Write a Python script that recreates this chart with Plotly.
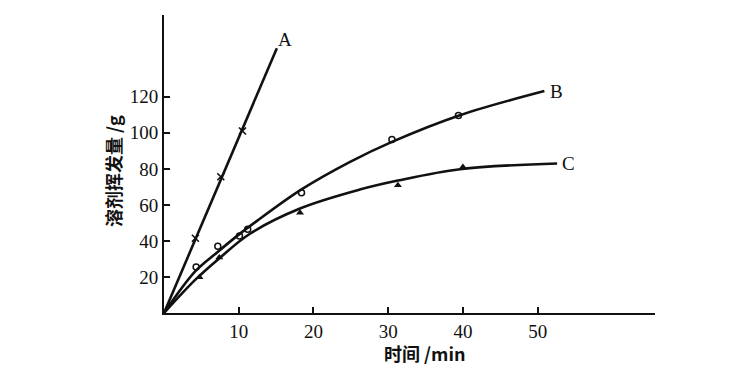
import plotly.graph_objects as go

# ---- data ----
# measured points
a_x = [4.2, 7.6, 10.5]
a_y = [41.5, 75.6, 101.0]
b_x = [4.3, 7.2, 10.1, 11.2, 18.4, 30.5, 39.4]
b_y = [25.6, 37.1, 42.8, 46.5, 66.8, 96.3, 109.6]
c_x = [4.75, 7.4, 18.2, 31.3, 40.0]
c_y = [19.8, 30.8, 55.6, 70.9, 81.1]

# drawn curves
a_line_x = [0.0, 15.1]
a_line_y = [0.0, 147.0]
b_line_x = [0.0, 4.2, 7.1, 10.0, 12.4, 18.4, 24.9, 30.5, 39.6, 50.9]
b_line_y = [0.0, 23.2, 33.6, 43.5, 51.0, 68.6, 83.9, 95.0, 109.8, 123.2]
c_line_x = [0.0, 4.2, 7.3, 11.5, 18.2, 26.2, 31.3, 39.6, 52.6]
c_line_y = [0.0, 18.5, 30.0, 44.0, 58.0, 68.5, 73.5, 79.8, 83.0]

curve_labels = ["A", "B", "C"]
label_x = [16.2, 52.5, 54.1]
label_y = [152.0, 123.2, 83.0]

x_ticks = [10, 20, 30, 40, 50]
y_ticks = [20, 40, 60, 80, 100, 120]
x_title = "时间 /min"
y_title = "溶剂挥发量 /g"

BLACK = "#111111"
LW = 2.6

fig = go.Figure()
for lx, ly in [(a_line_x, a_line_y), (b_line_x, b_line_y), (c_line_x, c_line_y)]:
    fig.add_trace(go.Scatter(x=lx, y=ly, mode="lines",
                             line=dict(color=BLACK, width=LW, shape="spline", smoothing=1.0),
                             showlegend=False, hoverinfo="skip"))

fig.add_trace(go.Scatter(x=a_x, y=a_y, mode="markers", showlegend=False,
                         marker=dict(symbol="x-thin", size=7, color=BLACK,
                                     line=dict(color=BLACK, width=1.6))))
fig.add_trace(go.Scatter(x=b_x, y=b_y, mode="markers", showlegend=False,
                         marker=dict(symbol="circle-open", size=6, color=BLACK,
                                     line=dict(color=BLACK, width=1.5))))
fig.add_trace(go.Scatter(x=c_x, y=c_y, mode="markers", showlegend=False,
                         marker=dict(symbol="triangle-up", size=7, color=BLACK)))

for t, x, y in zip(curve_labels, label_x, label_y):
    fig.add_annotation(x=x, y=y, text=t, showarrow=False, xanchor="center", yanchor="middle",
                       font=dict(family="Liberation Serif", size=19, color=BLACK))

fig.add_annotation(xref="paper", yref="paper", x=0.53, y=-0.135, text=x_title,
                   showarrow=False, xanchor="center", yanchor="middle",
                   font=dict(family="Noto Sans CJK SC", size=18, color=BLACK, weight="bold"))
fig.add_annotation(xref="paper", yref="paper", x=-0.104, y=0.476, text=y_title,
                   showarrow=False, xanchor="center", yanchor="middle", textangle=-90,
                   font=dict(family="Noto Sans CJK SC", size=18, color=BLACK, weight="bold"))

axis_common = dict(showgrid=False, zeroline=False, showline=True, linecolor=BLACK, linewidth=2,
                   ticks="inside", tickcolor=BLACK, tickwidth=1.5, ticklen=6,
                   tickfont=dict(family="Liberation Serif", size=19, color=BLACK), mirror=False)

fig.update_xaxes(range=[0, 65.7], tickvals=x_ticks, ticktext=[str(v) for v in x_ticks], **axis_common)
fig.update_yaxes(range=[0, 165.4], tickvals=y_ticks, ticktext=[str(v) for v in y_ticks], **axis_common)

# the page body adds an 8px offset, so margins are reduced accordingly
fig.update_layout(width=755, height=380, margin=dict(l=156, r=108, t=7, b=75),
                  plot_bgcolor="white", paper_bgcolor="white")

fig.write_html("out.html")
